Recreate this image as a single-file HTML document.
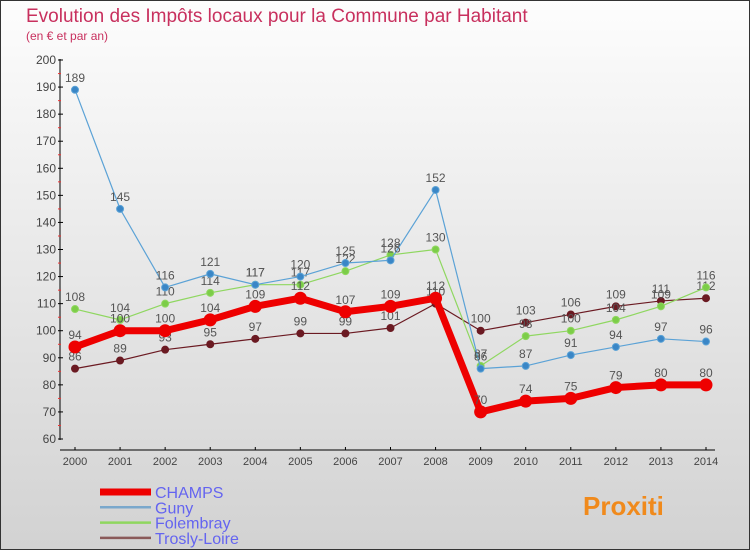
<!DOCTYPE html>
<html><head><meta charset="utf-8"><style>
body{margin:0}
#c{width:750px;height:550px;position:relative;font-family:"Liberation Sans",sans-serif}
svg text{font-family:"Liberation Sans",sans-serif}
</style></head><body>
<div id="c">
<svg id="s" width="750" height="550" xmlns="http://www.w3.org/2000/svg">
<defs><linearGradient id="bg" x1="0" y1="0" x2="0" y2="1"><stop offset="0" stop-color="#fdfdfd"/><stop offset="1" stop-color="#d2d2d2"/></linearGradient></defs>
<rect x="0.5" y="0.5" width="749" height="549" fill="url(#bg)" stroke="#333"/>
<text x="26" y="22" font-size="19" fill="#c8305e">Evolution des Impôts locaux pour la Commune par Habitant</text>
<text x="26" y="40" font-size="12" fill="#c8305e">(en € et par an)</text>
<g id="axes"></g><g id="series"></g><g id="legend"></g>
</svg></div>
<script>
const years=[2000,2001,2002,2003,2004,2005,2006,2007,2008,2009,2010,2011,2012,2013,2014];
const yTicks=[60,70,80,90,100,110,120,130,140,150,160,170,180,190,200];
const champs=[94,100,100,104,109,112,107,109,112,70,74,75,79,80,80];
const guny=[189,145,116,121,117,120,125,126,152,86,87,91,94,97,96];
const folembray=[108,104,110,114,117,117,122,128,130,87,98,100,104,109,116];
const trosly=[86,89,93,95,97,99,99,101,110,100,103,106,109,111,112];
const NS="http://www.w3.org/2000/svg";
const xs=i=>75+i*(631/14);
const ys=v=>439-(v-60)*(379/140);
function mk(p,t,a){const e=document.createElementNS(NS,t);for(const k in a)e.setAttribute(k,a[k]);p.appendChild(e);return e;}
const ax=document.getElementById('axes');
mk(ax,'line',{x1:60,y1:59,x2:60,y2:440,stroke:'#000'});
mk(ax,'line',{x1:60,y1:450,x2:715,y2:450,stroke:'#000'});
yTicks.forEach(v=>{const y=ys(v);
mk(ax,'line',{x1:58,y1:y,x2:63,y2:y,stroke:'#000'});
if(v<200)mk(ax,'line',{x1:58,y1:y-13.5,x2:61,y2:y-13.5,stroke:'#e33'});
const t=mk(ax,'text',{x:56,y:y+4,'font-size':12,fill:'#444','text-anchor':'end'});t.textContent=v;

});
years.forEach((yr,i)=>{const x=xs(i);
mk(ax,'line',{x1:x,y1:447,x2:x,y2:450,stroke:'#000'});
const t=mk(ax,'text',{x:x,y:465,'font-size':11,fill:'#444','text-anchor':'middle'});t.textContent=yr;

});
const sg=document.getElementById('series');
function draw(name,data,color,lw,r,dot){
const g=mk(sg,'g',{});


mk(g,'polyline',{points:data.map((v,i)=>xs(i)+','+ys(v)).join(' '),fill:'none',stroke:color,'stroke-width':lw,'stroke-linejoin':'round'});
data.forEach((v,i)=>{const c=mk(g,'circle',{cx:xs(i),cy:ys(v),r:r,fill:dot,stroke:color,'stroke-width':1});


const t=mk(g,'text',{x:xs(i),y:ys(v)-8,'font-size':12,fill:'#555','text-anchor':'middle'});t.textContent=v;

});}
draw('trosly-loire',trosly,'#6b1a22',1.2,3.5,'#6b1a22');
draw('folembray',folembray,'#8fd760',1.2,3.5,'#7ccd48');
draw('guny',guny,'#5ba2d6',1.2,3.5,'#3a86c6');
draw('champs',champs,'#ee0000',7,6,'#ee0000');
const lg=document.getElementById('legend');
[['CHAMPS','#ee0000',7],['Guny','#7aa8cc',2.5],['Folembray','#8fd760',2.5],['Trosly-Loire','#8a5a5a',2.5]].forEach((d,i)=>{
const y=492+i*15.3;const g=mk(lg,'g',{});


mk(g,'line',{x1:100,y1:y,x2:151,y2:y,stroke:d[1],'stroke-width':d[2]});
const t=mk(g,'text',{x:155,y:y+6,'font-size':16,fill:'#6464f0'});t.textContent=d[0];});
const p=mk(lg,'text',{x:583,y:515,'font-size':26,'font-weight':'bold',fill:'#f08a1c'});
p.textContent='Proxiti';


</script>
</body></html>
